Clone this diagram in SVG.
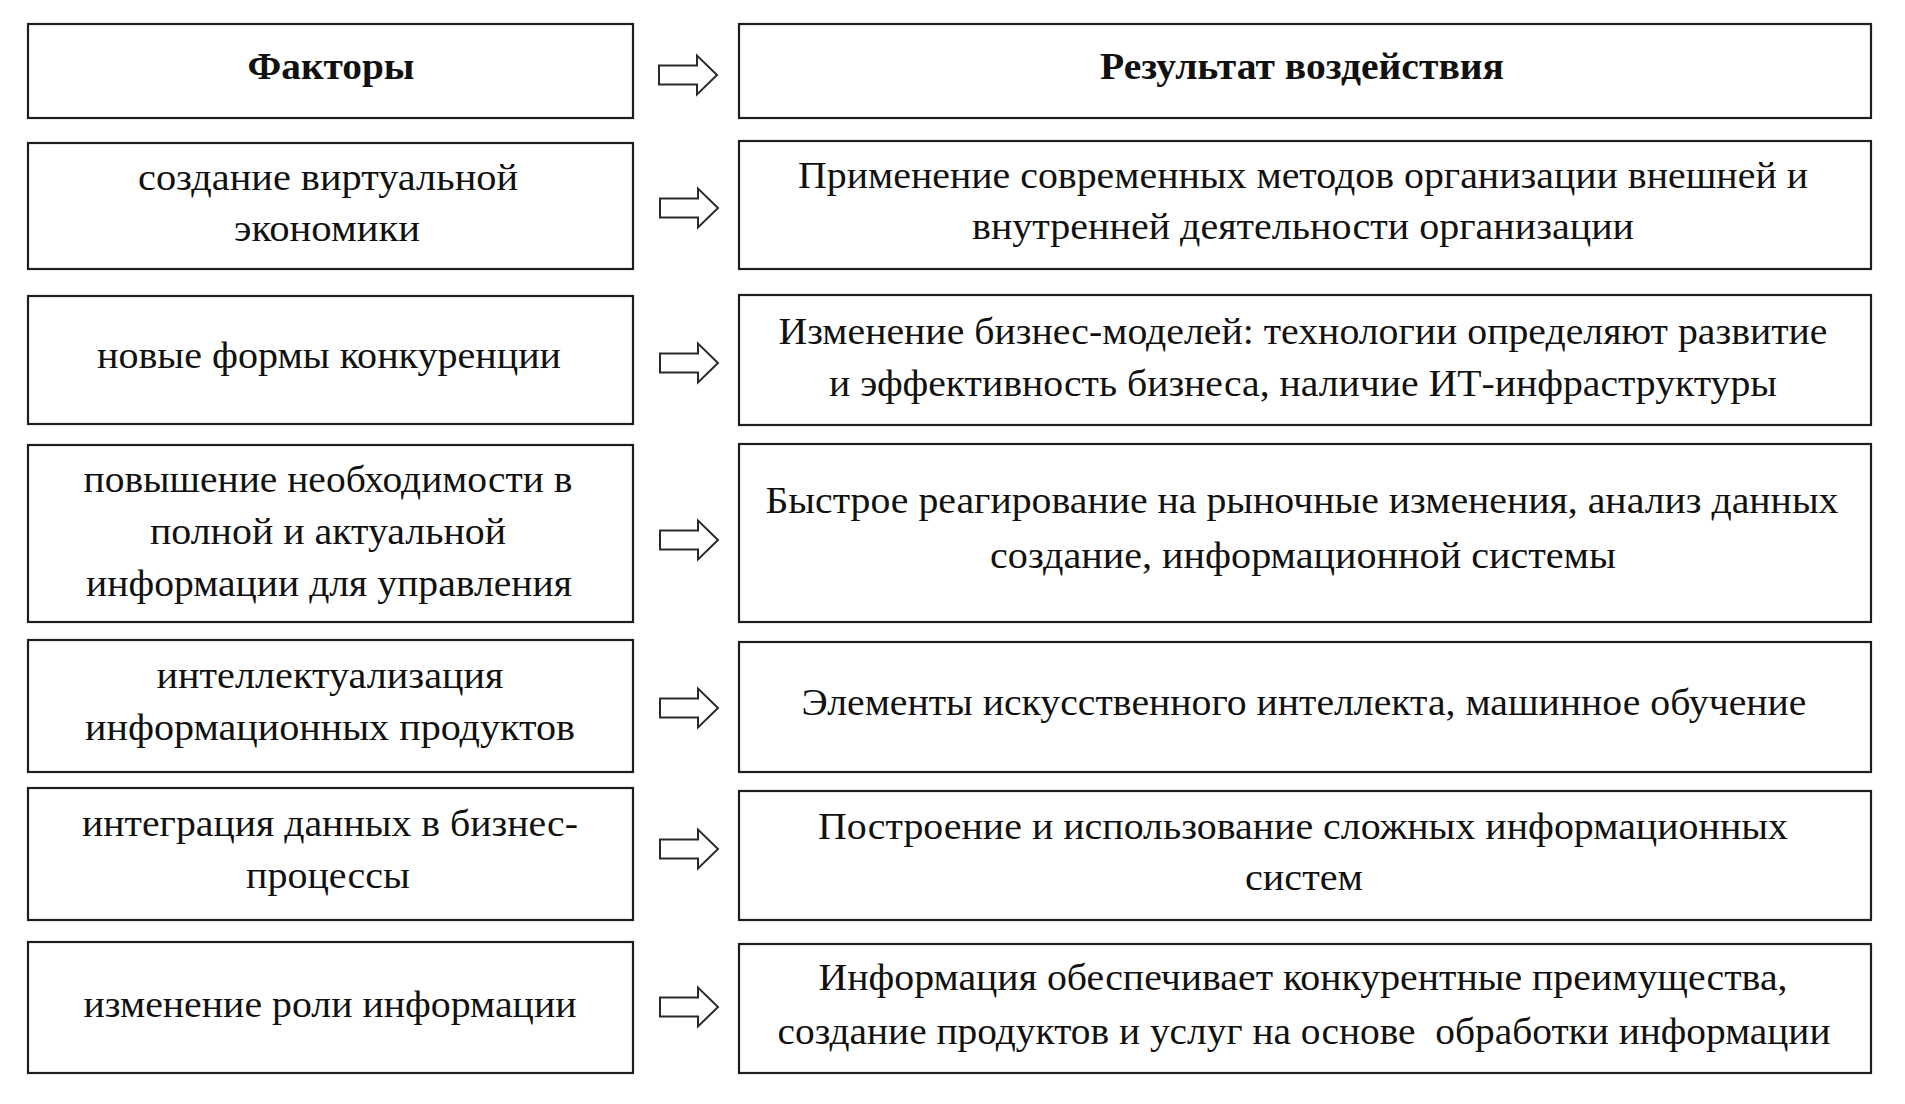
<svg xmlns="http://www.w3.org/2000/svg" width="1905" height="1104" viewBox="0 0 1905 1104">
<style>
.box{fill:#fff;stroke:#1e1e1e;stroke-width:2.2}
.arr{fill:#fff;stroke:#2a2a2a;stroke-width:2;stroke-linejoin:miter}
text{font-family:"Liberation Serif","Times New Roman",serif;font-size:38px;fill:#111;text-anchor:middle}
.b{font-weight:bold}
</style>
<defs>
<polygon id="arrow" class="arr" points="0,-9.5 38,-9.5 38,-19.5 58,0 38,19.5 38,9.5 0,9.5"/>
</defs>
<rect width="1905" height="1104" fill="#fff"/>
<g id="connectors">
<use href="#arrow" x="659" y="75"/>
<use href="#arrow" x="660" y="208"/>
<use href="#arrow" x="660" y="363"/>
<use href="#arrow" x="660" y="540"/>
<use href="#arrow" x="660" y="708"/>
<use href="#arrow" x="660" y="849"/>
<use href="#arrow" x="660" y="1007"/>
</g>
<g id="f0"><rect class="box" x="28" y="24" width="605" height="94"/><text class="b" x="331" y="79" textLength="167" lengthAdjust="spacingAndGlyphs">Факторы</text></g>
<g id="r0"><rect class="box" x="739" y="24" width="1132" height="94"/><text class="b" x="1302" y="79" textLength="404" lengthAdjust="spacingAndGlyphs">Результат воздействия</text></g>
<g id="f1"><rect class="box" x="28" y="143" width="605" height="126"/><text x="328" y="190" textLength="380" lengthAdjust="spacingAndGlyphs">создание виртуальной</text><text x="327" y="241" textLength="186" lengthAdjust="spacingAndGlyphs">экономики</text></g>
<g id="r1"><rect class="box" x="739" y="141" width="1132" height="128"/><text x="1303" y="188" textLength="1010" lengthAdjust="spacingAndGlyphs">Применение современных методов организации внешней и</text><text x="1303" y="239" textLength="662" lengthAdjust="spacingAndGlyphs">внутренней деятельности организации</text></g>
<g id="f2"><rect class="box" x="28" y="296" width="605" height="128"/><text x="329" y="368" textLength="464" lengthAdjust="spacingAndGlyphs">новые формы конкуренции</text></g>
<g id="r2"><rect class="box" x="739" y="295" width="1132" height="130"/><text x="1303" y="344" textLength="1049" lengthAdjust="spacingAndGlyphs">Изменение бизнес-моделей: технологии определяют развитие</text><text x="1303" y="396" textLength="948" lengthAdjust="spacingAndGlyphs">и эффективность бизнеса, наличие ИТ-инфраструктуры</text></g>
<g id="f3"><rect class="box" x="28" y="445" width="605" height="177"/><text x="328" y="492" textLength="489" lengthAdjust="spacingAndGlyphs">повышение необходимости в</text><text x="328" y="544" textLength="356" lengthAdjust="spacingAndGlyphs">полной и актуальной</text><text x="329" y="596" textLength="486" lengthAdjust="spacingAndGlyphs">информации для управления</text></g>
<g id="r3"><rect class="box" x="739" y="444" width="1132" height="178"/><text x="1302" y="513" textLength="1073" lengthAdjust="spacingAndGlyphs">Быстрое реагирование на рыночные изменения, анализ данных</text><text x="1303" y="568" textLength="626" lengthAdjust="spacingAndGlyphs">создание, информационной системы</text></g>
<g id="f4"><rect class="box" x="28" y="640" width="605" height="132"/><text x="330" y="688" textLength="347" lengthAdjust="spacingAndGlyphs">интеллектуализация</text><text x="330" y="740" textLength="490" lengthAdjust="spacingAndGlyphs">информационных продуктов</text></g>
<g id="r4"><rect class="box" x="739" y="642" width="1132" height="130"/><text x="1304" y="715" textLength="1005" lengthAdjust="spacingAndGlyphs">Элементы искусственного интеллекта, машинное обучение</text></g>
<g id="f5"><rect class="box" x="28" y="788" width="605" height="132"/><text x="330" y="836" textLength="496" lengthAdjust="spacingAndGlyphs">интеграция данных в бизнес-</text><text x="328" y="888" textLength="164" lengthAdjust="spacingAndGlyphs">процессы</text></g>
<g id="r5"><rect class="box" x="739" y="791" width="1132" height="129"/><text x="1303" y="839" textLength="970" lengthAdjust="spacingAndGlyphs">Построение и использование сложных информационных</text><text x="1304" y="890" textLength="118" lengthAdjust="spacingAndGlyphs">систем</text></g>
<g id="f6"><rect class="box" x="28" y="942" width="605" height="131"/><text x="330" y="1017" textLength="493" lengthAdjust="spacingAndGlyphs">изменение роли информации</text></g>
<g id="r6"><rect class="box" x="739" y="944" width="1132" height="129"/><text x="1303" y="990" textLength="969" lengthAdjust="spacingAndGlyphs">Информация обеспечивает конкурентные преимущества,</text><text x="1304" y="1044" textLength="1053" lengthAdjust="spacingAndGlyphs">создание продуктов и услуг на основе&#160; обработки информации</text></g>
</svg>
